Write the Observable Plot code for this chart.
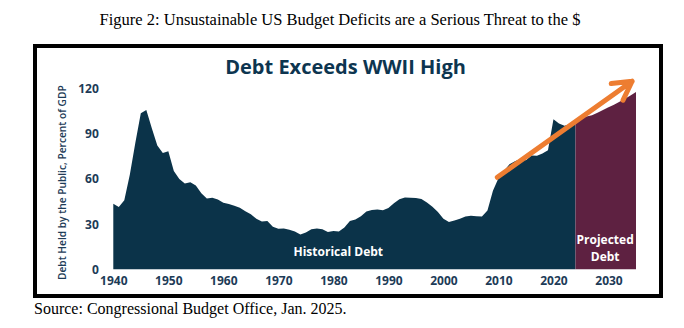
<!DOCTYPE html>
<html>
<head>
<meta charset="utf-8">
<script src="https://cdn.jsdelivr.net/npm/d3@7"></script>
<script src="https://cdn.jsdelivr.net/npm/@observablehq/plot@0.6"></script>
<style>
  html, body { margin: 0; padding: 0; background: #ffffff; }
  body { width: 684px; height: 328px; position: relative; overflow: hidden; }
  #figtitle { position: absolute; top: 12px; left: 0; width: 680px; text-align: center;
    font-family: "Liberation Serif", "Times New Roman", serif; font-size: 16.5px; line-height: 16.5px; color: #000; white-space: nowrap; }
  #frame { position: absolute; left: 33px; top: 44px; width: 622px; height: 246px; border: 4px solid #000; background: #fff; }
  #frame svg { display: block; overflow: visible; }
  #source { position: absolute; left: 34px; top: 301px;
    font-family: "Liberation Serif", "Times New Roman", serif; font-size: 16px; line-height: 16px; color: #000; }
</style>
</head>
<body>
<div id="figtitle">Figure 2: Unsustainable US Budget Deficits are a Serious Threat to the $</div>
<div id="frame"></div>
<div id="source">Source: Congressional Budget Office, Jan. 2025.</div>
<script>
// ---- Data (debt held by the public, percent of GDP) ----
const histYears = [
  1940,1941,1942,1943,1944,1945,1946,1947,1948,1949,
  1950,1951,1952,1953,1954,1955,1956,1957,1958,1959,
  1960,1961,1962,1963,1964,1965,1966,1967,1968,1969,
  1970,1971,1972,1973,1974,1975,1976,1977,1978,1979,
  1980,1981,1982,1983,1984,1985,1986,1987,1988,1989,
  1990,1991,1992,1993,1994,1995,1996,1997,1998,1999,
  2000,2001,2002,2003,2004,2005,2006,2007,2008,2009,
  2010,2011,2012,2013,2014,2015,2016,2017,2018,2019,
  2020,2021,2022,2023,2024
];
const histDebt = [
  43.6,41.5,45.9,63.0,84.0,103.9,106.1,93.9,82.4,77.4,
  78.5,65.4,60.1,57.1,57.9,55.7,50.6,47.2,47.7,46.4,
  44.3,43.5,42.3,41.0,38.7,36.7,33.7,31.8,32.2,28.3,
  27.0,27.1,26.4,25.1,23.1,24.5,26.7,27.1,26.6,24.9,
  25.5,25.2,27.9,32.1,33.1,35.3,38.4,39.5,39.8,39.3,
  40.8,44.0,46.6,47.8,47.7,47.5,46.8,44.5,41.6,38.2,
  33.6,31.4,32.5,33.6,35.1,35.6,35.3,35.2,39.2,52.2,
  60.6,65.5,70.0,71.9,73.4,72.5,75.8,75.6,77.1,79.2,
  99.8,97.0,95.6,96.5,97.8
];
const projYears = [2024,2025,2026,2027,2028,2029,2030,2031,2032,2033,2034,2035];
const projDebt  = [97.8,100.0,101.7,102.6,104.2,106.0,107.8,109.6,111.5,113.5,115.6,118.0];

const xTicks = [1940,1950,1960,1970,1980,1990,2000,2010,2020,2030];
const yTicks = [0,30,60,90,120];

// Trend arrow annotation (data coordinates: year, percent)
const trendArrow = [{x1: 2009.7, y1: 61.6, x2: 2034.2, y2: 125.5}];

// Labels
const chartTitle = "Debt Exceeds WWII High";
const yLabel = "Debt Held by the Public, Percent of GDP";
const areaLabels = [
  {year: 1980.8, value: 12.8, text: "Historical Debt"},
  {year: 2029.3, value: 15.2, text: "Projected\nDebt"}
];

const hist = histYears.map((year, i) => ({year, debt: histDebt[i]}));
const proj = projYears.map((year, i) => ({year, debt: projDebt[i]}));

const navy = "#0b3349";
const maroon = "#5e2141";
const orange = "#ed7d31";
const axisColor = "#1d3b57";

const chart = Plot.plot({
  width: 622,
  height: 246,
  marginLeft: 76.3,
  marginRight: 23,
  marginTop: 41,
  marginBottom: 24.7,
  style: {fontFamily: "'Open Sans', sans-serif", fontSize: "12px", background: "transparent", overflow: "visible", color: axisColor},
  x: {domain: [1940, 2035], label: null},
  y: {domain: [0, 120], label: null},
  marks: [
    Plot.areaY(hist, {x: "year", y: "debt", fill: navy}),
    Plot.areaY(proj, {x: "year", y: "debt", fill: maroon}),
    Plot.axisX({ticks: xTicks, tickFormat: d => String(d), tickSize: 0, tickPadding: 7, fontWeight: 700, fill: axisColor, label: null}),
    Plot.axisY({ticks: yTicks, tickSize: 0, tickPadding: 15, fontWeight: 700, fill: axisColor, label: null}),
    Plot.text(areaLabels, {x: "year", y: "value", text: "text", fill: "white", fontWeight: 700, fontSize: 12, lineHeight: 1.4}),
    Plot.arrow(trendArrow, {x1: "x1", y1: "y1", x2: "x2", y2: "y2", stroke: orange, strokeWidth: 5, headLength: 6.3, headAngle: 58}),
    Plot.text([chartTitle], {frameAnchor: "top", dx: -29.6, dy: -22, lineAnchor: "middle", fontSize: 20, fontWeight: 700, fill: "#0d3550"}),
    Plot.text([yLabel], {frameAnchor: "left", textAnchor: "middle", rotate: -90, dx: -51.3, dy: 3, fontSize: 10.2, fontWeight: 600, fill: axisColor})
  ]
});
document.getElementById("frame").appendChild(chart);
</script>
</body>
</html>
